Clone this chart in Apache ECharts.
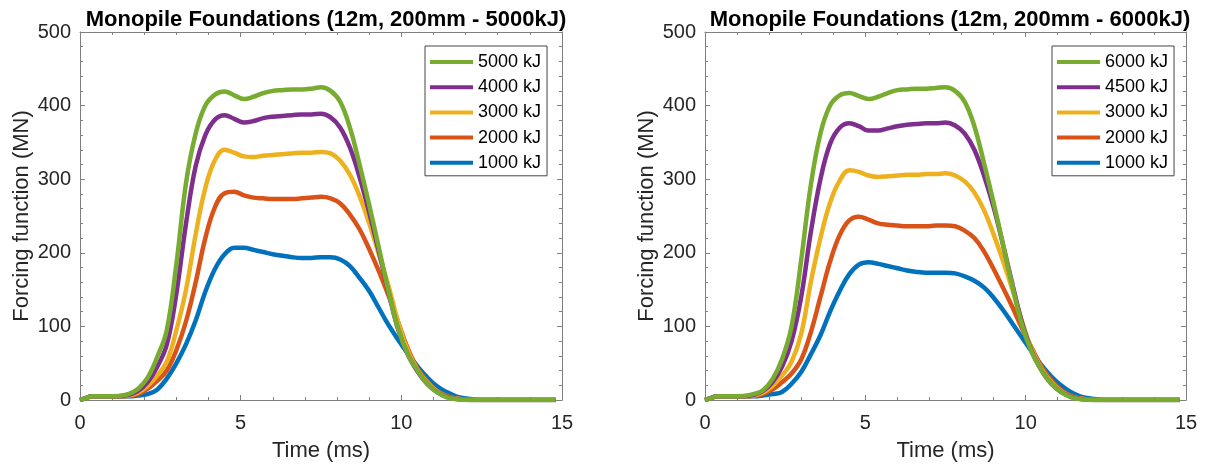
<!DOCTYPE html>
<html>
<head>
<meta charset="utf-8">
<script src="https://cdn.jsdelivr.net/npm/echarts@6/dist/echarts.min.js"></script>
<style>
html,body{margin:0;padding:0;background:#fff;}
#c{width:1205px;height:467px;}
</style>
</head>
<body>
<div id="c"></div>
<script>
// ---- data ----
const time = [0, 0.2, 0.4, 0.8, 1.2, 1.5, 1.8, 2.1, 2.4, 2.7, 3.0, 3.3, 3.6, 3.9, 4.2, 4.5, 4.8, 5.1, 5.4, 5.7, 6.0, 6.3, 6.6, 6.9, 7.2, 7.5, 7.8, 8.1, 8.4, 8.7, 9.0, 9.3, 9.6, 9.9, 10.2, 10.5, 10.8, 11.1, 11.4, 11.7, 12.0, 12.3, 12.6, 13.0, 14.0, 14.8];

// left chart (5000 kJ hammer)
const left1000 = [0, 3, 5, 5, 5, 5, 6, 8, 14, 29, 50, 76, 108, 147, 178, 198, 207, 207, 204, 201, 198, 196, 194, 193, 193, 194, 194, 191, 182, 166, 148, 125, 102, 82, 63, 46, 31, 19, 11, 5, 2, 0.5, 0, 0, 0, 0];
const left2000 = [0, 3, 5, 5, 5, 5.5, 8, 15, 26, 40, 68, 107, 160, 220, 262, 281, 283, 278, 275, 274, 273, 273, 273, 274, 275, 276, 274, 267, 252, 232, 205, 175, 142, 106, 70, 43, 26, 13, 6, 2, 0.5, 0, 0, 0, 0, 0];
const left3000 = [0, 3, 5, 5, 5, 6, 10, 19, 33, 52, 95, 150, 225, 288, 326, 340, 336, 331, 330, 332, 333, 334, 335, 336, 336, 337, 335, 325, 306, 277, 240, 198, 155, 106, 67, 41, 24, 12, 5, 2, 0.5, 0, 0, 0, 0, 0];
const left4000 = [0, 3, 5, 5, 5, 7, 12, 24, 45, 75, 145, 240, 318, 360, 381, 387, 382, 377, 379, 383, 385, 386, 387, 388, 388, 389, 384, 370, 343, 303, 255, 202, 147, 96, 62, 39, 22, 11, 4.5, 1.5, 0.3, 0, 0, 0, 0, 0];
const left5000 = [0, 3, 5, 5, 5.5, 8, 15, 30, 58, 95, 185, 295, 362, 400, 415, 419, 414, 409, 412, 417, 420, 421, 422, 422, 423, 425, 420, 405, 370, 320, 265, 207, 148, 97, 62, 40, 22, 11, 4, 1, 0, 0, 0, 0, 0, 0];

// right chart (6000 kJ hammer)
const right1000 = [0, 3, 5, 5, 5, 5, 6, 8, 11, 22, 38, 62, 88, 120, 148, 171, 184, 187, 185, 182, 179, 176, 174, 173, 173, 173, 172, 168, 162, 153, 139, 122, 103, 84, 65, 47, 32, 20, 11, 5, 2, 0.5, 0, 0, 0, 0];
const right2000 = [0, 3, 5, 5, 5, 5.5, 8, 14, 24, 36, 55, 92, 140, 188, 224, 244, 249, 245, 240, 238, 237, 236, 236, 236, 237, 237, 236, 230, 220, 202, 178, 152, 125, 96, 70, 45, 27, 14, 6, 2, 0.5, 0, 0, 0, 0, 0];
const right3000 = [0, 3, 5, 5, 5, 6, 10, 19, 33, 52, 90, 160, 220, 268, 298, 312, 310, 305, 303, 304, 305, 306, 306, 307, 307, 308, 305, 297, 282, 258, 225, 188, 148, 105, 68, 42, 24, 12, 5, 2, 0.5, 0, 0, 0, 0, 0];
const right4500 = [0, 3, 5, 5, 5, 7, 12, 24, 45, 80, 140, 228, 300, 348, 370, 376, 372, 366, 366, 369, 372, 374, 375, 376, 376, 377, 373, 362, 340, 305, 262, 210, 155, 103, 65, 40, 22, 11, 4.5, 1.5, 0.3, 0, 0, 0, 0, 0];
const right6000 = [0, 3, 5, 5, 5.5, 8, 13, 28, 55, 100, 190, 292, 362, 400, 414, 417, 413, 409, 412, 417, 421, 422, 423, 423, 424, 425, 420, 405, 372, 322, 268, 210, 152, 100, 64, 40, 22, 11, 4, 1, 0, 0, 0, 0, 0, 0];

const leftNames = ['1000 kJ', '2000 kJ', '3000 kJ', '4000 kJ', '5000 kJ'];
const rightNames = ['1000 kJ', '2000 kJ', '3000 kJ', '4500 kJ', '6000 kJ'];
const titles = ['Monopile Foundations (12m, 200mm - 5000kJ)', 'Monopile Foundations (12m, 200mm - 6000kJ)'];
const xTitle = 'Time (ms)';
const yTitle = 'Forcing function (MN)';

// ---- styling ----
const colors = ['#0072BD', '#D95319', '#EDB120', '#7E2F8E', '#77AC30'];
const FONT = '"Liberation Sans", Arial, Helvetica, sans-serif';
const axisColor = '#808080';
const textColor = '#262626';

const grids = [
  {left: 80, right: 1205 - 562, top: 32, bottom: 467 - 401},
  {left: 705, right: 1205 - 1186, top: 32, bottom: 467 - 401}
];

function xAx(gi, pos) {
  const main = pos === 'bottom';
  return {
    type: 'value', gridIndex: gi, position: pos, min: 0, max: 15, interval: 5,
    axisLine: {show: true, onZero: false, lineStyle: {color: axisColor, width: 1}},
    axisTick: {show: true, inside: true, length: 5, lineStyle: {color: axisColor}},
    minorTick: {show: true, splitNumber: 5, length: 3, lineStyle: {color: axisColor}},
    axisLabel: {show: main, fontSize: 20, color: textColor, fontFamily: FONT, margin: 13},
    splitLine: {show: false},
    name: main ? xTitle : '', nameLocation: 'middle', nameGap: 40,
    nameTextStyle: {fontSize: 22, color: textColor, fontFamily: FONT}
  };
}
function yAx(gi, pos) {
  const main = pos === 'left';
  return {
    type: 'value', gridIndex: gi, position: pos, min: 0, max: 500, interval: 100,
    axisLine: {show: true, onZero: false, lineStyle: {color: axisColor, width: 1}},
    axisTick: {show: true, inside: true, length: 5, lineStyle: {color: axisColor}},
    minorTick: {show: true, splitNumber: 5, length: 3, lineStyle: {color: axisColor}},
    axisLabel: {show: main, fontSize: 20, color: textColor, fontFamily: FONT, margin: 9},
    splitLine: {show: false},
    name: main ? yTitle : '', nameLocation: 'middle', nameGap: 47, nameRotate: 90,
    nameTextStyle: {fontSize: 22, color: textColor, fontFamily: FONT}
  };
}

const leftData = [left1000, left2000, left3000, left4000, left5000];
const rightData = [right1000, right2000, right3000, right4500, right6000];

const series = [];
function addSeries(names, arrs, gi) {
  names.forEach((n, i) => {
    series.push({
      name: n, type: 'line', xAxisIndex: gi * 2, yAxisIndex: gi * 2,
      data: time.map((t, k) => [t, arrs[i][k]]),
      smooth: 0.4, showSymbol: false, symbol: 'none',
      lineStyle: {width: 4.5, color: colors[i]}, itemStyle: {color: colors[i]},
      z: 2 + i, animation: false
    });
  });
}
addSeries(leftNames, leftData, 0);
addSeries(rightNames, rightData, 1);

function legend(left, names) {
  return {
    orient: 'vertical', left: left, top: 46,
    itemWidth: 43, itemHeight: 4, itemGap: 7.2, icon: 'rect',
    padding: [7, 6, 4, 5],
    borderColor: '#444', borderWidth: 1, backgroundColor: '#fff',
    selectedMode: false,
    textStyle: {fontSize: 18, color: '#000', fontFamily: FONT, lineHeight: 18},
    data: names.slice().reverse()
  };
}

const option = {
  animation: false,
  backgroundColor: '#fff',
  color: colors,
  title: [
    {text: titles[0], left: 321, top: 4, textAlign: 'center', textStyle: {fontSize: 22, fontWeight: 'bold', color: '#000', fontFamily: FONT}},
    {text: titles[1], left: 945, top: 4, textAlign: 'center', textStyle: {fontSize: 22, fontWeight: 'bold', color: '#000', fontFamily: FONT}}
  ],
  legend: [legend(425, leftNames), legend(1052, rightNames)],
  grid: grids,
  xAxis: [xAx(0, 'bottom'), xAx(0, 'top'), xAx(1, 'bottom'), xAx(1, 'top')],
  yAxis: [yAx(0, 'left'), yAx(0, 'right'), yAx(1, 'left'), yAx(1, 'right')],
  series: series
};

const chart = echarts.init(document.getElementById('c'), null, {renderer: 'canvas'});
chart.setOption(option);
</script>
</body>
</html>
